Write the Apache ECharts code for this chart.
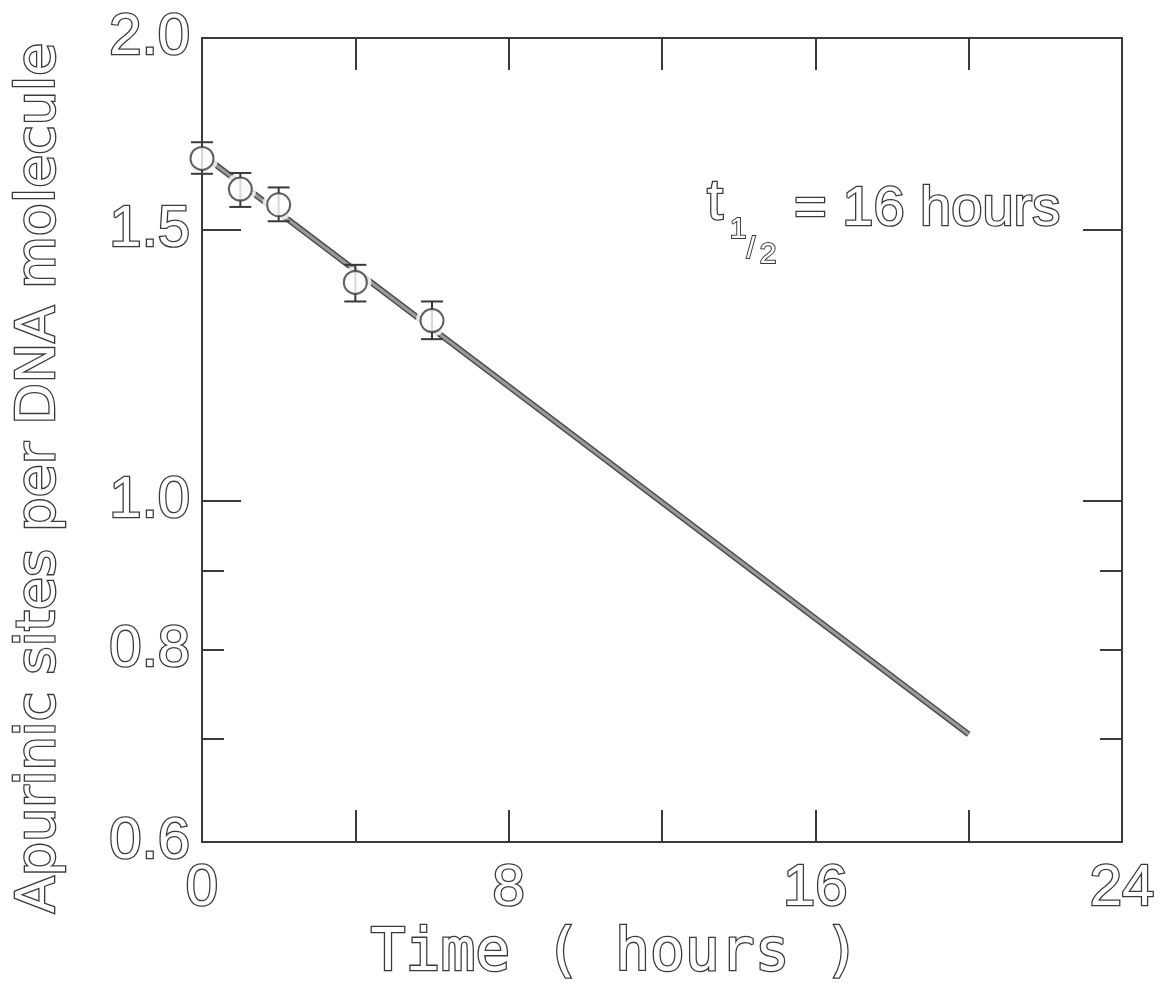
<!DOCTYPE html>
<html>
<head>
<meta charset="utf-8">
<script src="https://cdn.jsdelivr.net/npm/echarts@6/dist/echarts.min.js"></script>
<style>
html,body{margin:0;padding:0;background:#fff;}
#chart{width:1169px;height:983px;}
</style>
</head>
<body>
<div id="chart"></div>
<script>
// ---- data ----
const TIME_H   = [0, 1, 2, 4, 6];
const SITES    = [1.670, 1.595, 1.558, 1.387, 1.310];
const ERR_HI   = [1.711, 1.634, 1.599, 1.424, 1.348];
const ERR_LO   = [1.632, 1.553, 1.520, 1.348, 1.274];
const FIT_T    = [0, 20];
const FIT_Y    = [1.68, 0.705];
const X_TICKS  = [4, 8, 12, 16, 20];
const X_LABELS = [0, 8, 16, 24];
const Y_LABEL_VALUES = [0.6, 0.8, 1.0, 1.5, 2.0];
const Y_LABELS = ['0.6', '0.8', '1.0', '1.5', '2.0'];
const Y_MAJOR_TICKS = [1.0, 1.5];
const Y_MINOR_TICKS = [0.7, 0.8, 0.9];
const X_NAME = 'Time ( hours )';
const Y_NAME = 'Apurinic sites per DNA molecule';
const HALF_LIFE_TEXT = '= 16 hours';

// ---- styling ----
const INK = '#3a3a3a';
const Y_MIN = 0.6, Y_MAX = 2.0;
const LMIN = Math.log10(Y_MIN), LMAX = Math.log10(Y_MAX);
const hollow = (size, family) => ({
  fontFamily: family, fontSize: size, color: '#ffffff',
  textBorderColor: INK, textBorderWidth: 2.6
});
const lineSty = { color: INK, width: 2 };

const pts = TIME_H.map((t, i) => [t, SITES[i]]);
const errs = TIME_H.map((t, i) => [t, ERR_LO[i], ERR_HI[i]]);
const fit = FIT_T.map((t, i) => [t, FIT_Y[i]]);

function yLabelFmt(v) {
  const i = Y_LABEL_VALUES.findIndex(x => Math.abs(Math.log10(x) - v) < 1e-6);
  return i >= 0 ? Y_LABELS[i] : '';
}
function tickAxis(position, ticks, len, withLabels) {
  return {
    type: 'value', position: position, min: LMIN, max: LMAX,
    axisLine: { show: false, onZero: false },
    splitLine: { show: false },
    axisTick: { show: true, inside: true, length: len, lineStyle: lineSty,
                customValues: ticks.map(v => Math.log10(v)) },
    axisLabel: withLabels ? Object.assign({
      show: true, margin: 12, formatter: yLabelFmt,
      customValues: Y_LABEL_VALUES.map(v => Math.log10(v))
    }, hollow(58, '"Liberation Sans", Arial, sans-serif')) : { show: false }
  };
}

const chart = echarts.init(document.getElementById('chart'), null, { renderer: 'canvas' });
const option = {
  backgroundColor: '#ffffff',
  animation: false,
  grid: { left: 202, right: 47, top: 38, bottom: 141, containLabel: false, outerBoundsMode: 'none' },
  xAxis: [
    {
      type: 'value', position: 'bottom', min: 0, max: 24, interval: 4,
      axisLine: { show: true, onZero: false, lineStyle: lineSty },
      axisTick: { show: true, inside: true, length: 32, lineStyle: lineSty, customValues: X_TICKS },
      splitLine: { show: false },
      axisLabel: Object.assign({ margin: 18, customValues: X_LABELS,
        formatter: v => (X_LABELS.indexOf(v) >= 0 ? String(v) : '') },
        hollow(58, '"Liberation Sans", Arial, sans-serif')),
      name: X_NAME, nameLocation: 'middle', nameGap: 68,
      nameTextStyle: Object.assign({ padding: [0, 94, 0, 0] }, hollow(58, '"DejaVu Sans Mono", monospace'))
    },
    {
      type: 'value', position: 'top', min: 0, max: 24, interval: 4,
      axisLine: { show: true, onZero: false, lineStyle: lineSty },
      axisTick: { show: true, inside: true, length: 32, lineStyle: lineSty, customValues: X_TICKS },
      splitLine: { show: false },
      axisLabel: { show: false }
    }
  ],
  yAxis: [
    {
      type: 'log', logBase: 10, position: 'left', min: Y_MIN, max: Y_MAX,
      axisLine: { show: true, onZero: false, lineStyle: lineSty },
      axisTick: { show: false }, axisLabel: { show: false }, splitLine: { show: false }
    },
    tickAxis('left', Y_MAJOR_TICKS, 39, true),
    tickAxis('left', Y_MINOR_TICKS, 22, false),
    {
      type: 'log', logBase: 10, position: 'right', min: Y_MIN, max: Y_MAX,
      axisLine: { show: true, onZero: false, lineStyle: lineSty },
      axisTick: { show: false }, axisLabel: { show: false }, splitLine: { show: false }
    },
    tickAxis('right', Y_MAJOR_TICKS, 39, false),
    tickAxis('right', Y_MINOR_TICKS, 22, false)
  ],
  graphic: [
    {
      type: 'text', x: 40, y: 478, rotation: Math.PI / 2, z: 10,
      style: { text: Y_NAME, fill: '#ffffff', stroke: INK, lineWidth: 2.6,
               font: '54px "DejaVu Sans", sans-serif', align: 'center', verticalAlign: 'middle' }
    },
    {
      type: 'group', z: 10,
      children: [
        { type: 'text', x: 707, y: 232, style: { text: 't', fill: '#fff', stroke: INK, lineWidth: 2.6,
            font: '58px "Liberation Sans", sans-serif', align: 'left', verticalAlign: 'bottom' } },
        { type: 'text', x: 738, y: 230, style: { text: '1', fill: '#fff', stroke: INK, lineWidth: 2,
            font: '30px "Liberation Sans", sans-serif', align: 'center', verticalAlign: 'middle' } },
        { type: 'text', x: 751, y: 250, style: { text: '/', fill: '#fff', stroke: INK, lineWidth: 2,
            font: '30px "Liberation Sans", sans-serif', align: 'center', verticalAlign: 'middle' } },
        { type: 'text', x: 768, y: 255, style: { text: '2', fill: '#fff', stroke: INK, lineWidth: 2,
            font: '30px "Liberation Sans", sans-serif', align: 'center', verticalAlign: 'middle' } },
        { type: 'text', x: 794, y: 210, style: { text: HALF_LIFE_TEXT, fill: '#fff', stroke: INK, lineWidth: 2.6,
            font: '56px "Liberation Sans", sans-serif', align: 'left', verticalAlign: 'middle' } }
      ]
    }
  ],
  series: [
    {
      type: 'line', xAxisIndex: 0, yAxisIndex: 0, data: fit, symbol: 'none', z: 1,
      lineStyle: { color: '#4a4a4a', width: 6 }, silent: true
    },
    {
      type: 'line', xAxisIndex: 0, yAxisIndex: 0, data: fit, symbol: 'none', z: 2,
      lineStyle: { color: '#9a9a9a', width: 3 }, silent: true
    },
    {
      type: 'scatter', xAxisIndex: 0, yAxisIndex: 0, data: pts, symbol: 'circle', symbolSize: 32, z: 3,
      itemStyle: { color: '#ffffff', borderWidth: 0 }, silent: true
    },
    {
      type: 'custom', xAxisIndex: 0, yAxisIndex: 0, data: errs, z: 4, silent: true,
      renderItem: function (params, api) {
        const x = api.value(0);
        const lo = api.coord([x, api.value(1)]);
        const hi = api.coord([x, api.value(2)]);
        const hw = 11;
        const st = { stroke: INK, lineWidth: 2 };
        return {
          type: 'group',
          children: [
            { type: 'line', shape: { x1: lo[0], y1: lo[1], x2: hi[0], y2: hi[1] }, style: st },
            { type: 'line', shape: { x1: lo[0] - hw, y1: lo[1], x2: lo[0] + hw, y2: lo[1] }, style: st },
            { type: 'line', shape: { x1: hi[0] - hw, y1: hi[1], x2: hi[0] + hw, y2: hi[1] }, style: st }
          ]
        };
      },
      encode: { x: 0, y: [1, 2] }
    },
    {
      type: 'scatter', xAxisIndex: 0, yAxisIndex: 0, data: pts, symbol: 'circle', symbolSize: 23, z: 5,
      itemStyle: { color: '#ffffff', borderColor: INK, borderWidth: 2 }, silent: true
    }
  ]
};
chart.setOption(option);
</script>
</body>
</html>
